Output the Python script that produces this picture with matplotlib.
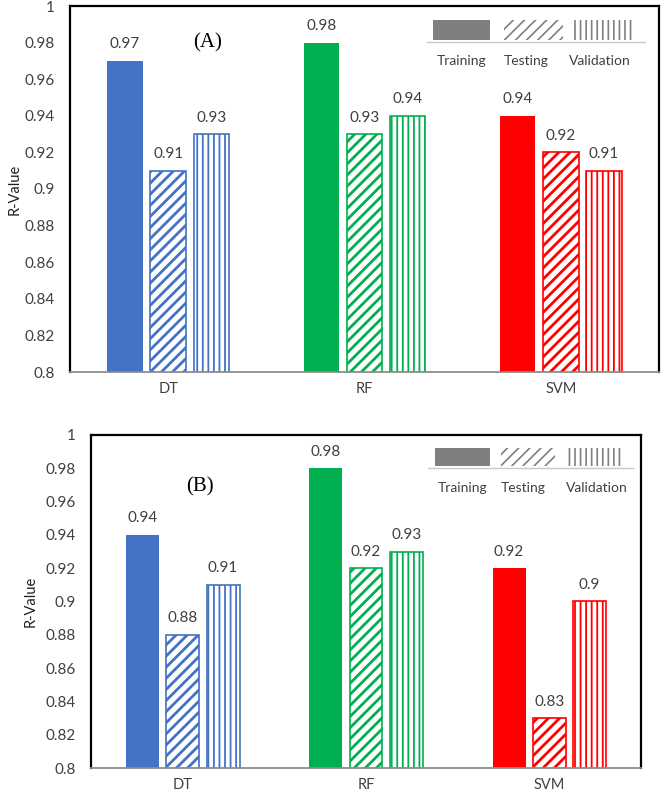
import numpy as np
import matplotlib
matplotlib.use('Agg')
import matplotlib.pyplot as plt
from matplotlib.patches import Rectangle
from matplotlib.lines import Line2D


# Model names and the three data splits
models = ['DT', 'RF', 'SVM']
splits = ['Training', 'Testing', 'Validation']

# R-values
panel_a = {
    'Training': [0.97, 0.98, 0.94],
    'Testing': [0.91, 0.93, 0.92],
    'Validation': [0.93, 0.94, 0.91],
}

# R-values
panel_b = {
    'Training': [0.94, 0.98, 0.92],
    'Testing': [0.88, 0.92, 0.83],
    'Validation': [0.91, 0.93, 0.90],
}

y_ticks = [0.8, 0.82, 0.84, 0.86, 0.88, 0.9, 0.92, 0.94, 0.96, 0.98, 1.0]

# One colour per model
model_colors = ['#4472C4', '#00B050', '#FF0000']
hatches = {'Training': None, 'Testing': '///', 'Validation': '|||'}

plt.rcParams['font.family'] = ['Lato', 'DejaVu Sans']
plt.rcParams['hatch.linewidth'] = 2.0

TEXT_COLOR = '#404040'


def draw_panel(ax, values, tag, tag_pos, legend_box):
    x = np.arange(len(models))
    width = 0.18
    offsets = [-0.22, 0, 0.22]

    for split, off in zip(splits, offsets):
        vals = values[split]
        for i in range(len(models)):
            color = model_colors[i]
            if hatches[split] is None:
                bars = ax.bar(x[i] + off, vals[i], width, color=color, linewidth=0)
            else:
                bars = ax.bar(x[i] + off, vals[i], width, facecolor='white',
                              edgecolor=color, linewidth=1.2, hatch=hatches[split])
                if split == 'Validation':
                    for b in bars:
                        if hasattr(b, 'set_hatch_linewidth'):
                            b.set_hatch_linewidth(1.3)
            ax.annotate('{:g}'.format(vals[i]), (x[i] + off, vals[i]),
                        xytext=(0, 9), textcoords='offset points',
                        ha='center', va='baseline', fontsize=11, color=TEXT_COLOR)

    ax.set_xlim(-0.5, 2.5)
    ax.set_ylim(0.8, 1.0)
    ax.set_yticks(y_ticks)
    ax.set_yticklabels(['{:g}'.format(round(v, 2)) for v in y_ticks])
    ax.set_xticks(x)
    ax.set_xticklabels(models)
    ax.tick_params(axis='y', length=0, pad=11, labelsize=11, labelcolor=TEXT_COLOR)
    ax.tick_params(axis='x', length=0, pad=7, labelsize=10.5, labelcolor=TEXT_COLOR)
    ax.set_ylabel('R-Value', fontsize=10.5, color='#202020')

    for side in ['left', 'top', 'right']:
        ax.spines[side].set_linewidth(1.6)
        ax.spines[side].set_color('black')
    ax.spines['bottom'].set_linewidth(1.3)
    ax.spines['bottom'].set_color('#8C8C8C')

    # Panel tag
    ax.text(tag_pos[0], tag_pos[1], tag, transform=ax.transAxes, ha='center', va='center',
            fontsize=15, family='Liberation Serif', color='black')

    # Hand made legend in the top right corner
    lx, ly0, ly1, line_y, line_x0, line_x1, label_y, label_xs = legend_box
    gray = '#7F7F7F'
    for k, split in enumerate(splits):
        x0, x1 = lx[k]
        if hatches[split] is None:
            patch = Rectangle((x0, ly0), x1 - x0, ly1 - ly0, transform=ax.transAxes,
                              facecolor=gray, edgecolor='none')
        else:
            patch = Rectangle((x0, ly0), x1 - x0, ly1 - ly0, transform=ax.transAxes,
                              facecolor='white', edgecolor=gray, linewidth=0,
                              hatch=hatches[split])
            if hasattr(patch, 'set_hatch_linewidth'):
                patch.set_hatch_linewidth(1.2)
        ax.add_patch(patch)
        ax.text(label_xs[k], label_y, split, transform=ax.transAxes, ha='center',
                va='center', fontsize=10, color=TEXT_COLOR)
    ax.add_line(Line2D([line_x0, line_x1], [line_y, line_y], transform=ax.transAxes,
                       color='#C8C8C8', linewidth=1))


fig = plt.figure(figsize=(6.64, 7.97), dpi=100)

# Top panel
ax1 = fig.add_axes([70 / 664, 1 - 372 / 797, 589 / 664, 366 / 797])
draw_panel(ax1, panel_a, '(A)', (0.234, 0.90),
           ([(0.616, 0.713), (0.737, 0.837), (0.854, 0.956)], 0.907, 0.962,
            0.903, 0.606, 0.976, 0.85, [0.665, 0.774, 0.900]))
ax1.yaxis.labelpad = 2

# Bottom panel
ax2 = fig.add_axes([91 / 664, 1 - 768 / 797, 550 / 664, 333 / 797])
draw_panel(ax2, panel_b, '(B)', (0.198, 0.844),
           ([(0.625, 0.725), (0.745, 0.844), (0.864, 0.965)], 0.907, 0.961,
            0.901, 0.613, 0.985, 0.841, [0.675, 0.785, 0.92]))
ax2.yaxis.labelpad = 6

fig.savefig('out.png', dpi=100)
